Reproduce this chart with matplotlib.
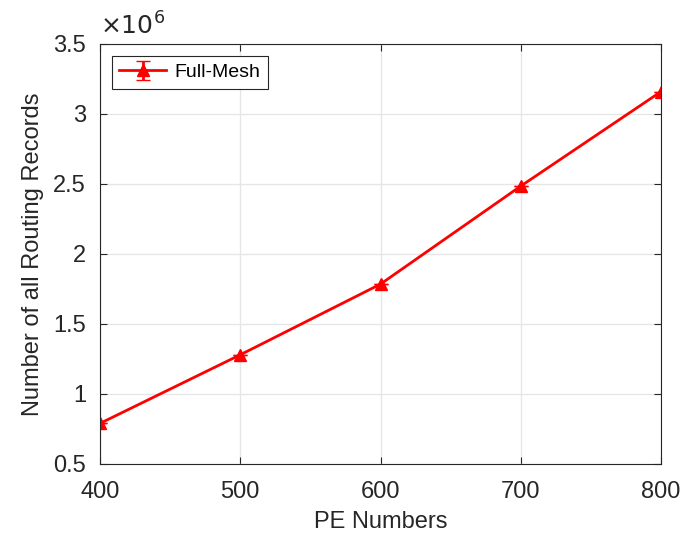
import numpy as np
import matplotlib.pyplot as plt

pe = [400, 500, 600, 700, 800]
records = [0.79e6, 1.28e6, 1.785e6, 2.485e6, 3.16e6]
err = [0.0, 0.0, 0.0, 0.0, 0.0]

plt.rcParams['font.family'] = ['Liberation Sans', 'DejaVu Sans']

fig = plt.figure(figsize=(6.84, 5.39), dpi=100)
ax = fig.add_axes([100/684, 75/539, 561/684, 420/539])

ax.errorbar(pe, records, yerr=err, color='red', marker='^', markersize=8,
            linewidth=2, capsize=5, label='Full-Mesh')

ax.set_xlim(400, 800)
ax.set_ylim(0.5e6, 3.5e6)
ax.set_xticks([400, 500, 600, 700, 800])
ax.set_yticks(np.arange(0.5e6, 3.51e6, 0.5e6))
ax.set_yticklabels(['0.5', '1', '1.5', '2', '2.5', '3', '3.5'])
ax.text(0, 1.01, r'$\times10^6$', transform=ax.transAxes, fontsize=18,
        color='#262626', va='bottom', ha='left')

ax.grid(True, color='#e6e6e6', linewidth=1)
ax.set_axisbelow(True)
for s in ax.spines.values():
    s.set_color('#262626')
    s.set_linewidth(0.8)
ax.tick_params(direction='in', labelsize=17, colors='#262626', length=5,
               top=True, right=True)
ax.tick_params(axis='x', pad=12)
ax.tick_params(axis='y', pad=10)

ax.set_xlabel('PE Numbers', fontsize=17, color='#262626', labelpad=6)
ax.set_ylabel('Number of all Routing Records', fontsize=17, color='#262626', labelpad=7)

leg = ax.legend(loc='upper left', fontsize=14, fancybox=False,
                edgecolor='#262626', framealpha=1, handlelength=2.4,
                handletextpad=0.4, borderaxespad=0.6)
leg.get_frame().set_linewidth(0.8)

fig.savefig('out.png', dpi=100)
